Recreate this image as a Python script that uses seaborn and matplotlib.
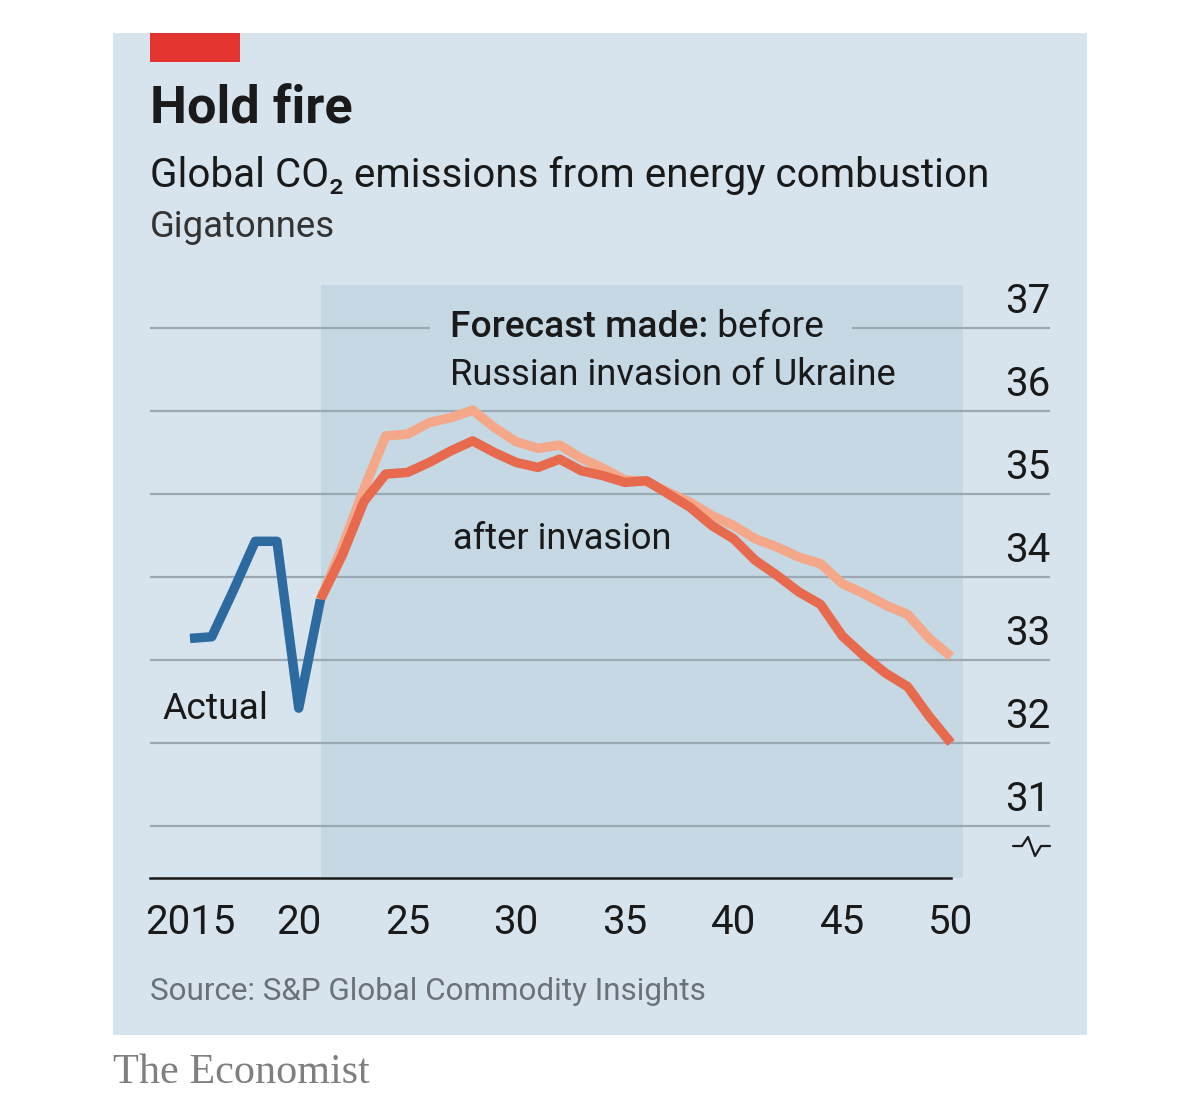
"""Hold fire: global CO2 emissions from energy combustion, actual vs forecasts."""

import matplotlib.lines as mlines
import matplotlib.patches as mpatches
import matplotlib.pyplot as plt
import pandas as pd
import seaborn as sns

# data
actual_years = [2015, 2016, 2017, 2018, 2019, 2020, 2021]
actual_values = [33.26, 33.28, 33.84, 34.43, 34.43, 32.42, 33.73]

forecast_years = list(range(2021, 2051))
before_values = [
    33.73, 34.36, 35.06, 35.70, 35.72, 35.86, 35.92, 36.01, 35.80, 35.63,
    35.55, 35.59, 35.43, 35.31, 35.17, 35.15, 35.02, 34.90, 34.74, 34.62,
    34.46, 34.36, 34.24, 34.16, 33.92, 33.80, 33.66, 33.55, 33.26, 33.04,
]
after_values = [
    33.73, 34.26, 34.91, 35.24, 35.26, 35.38, 35.52, 35.64, 35.50, 35.38,
    35.32, 35.42, 35.28, 35.22, 35.14, 35.16, 35.00, 34.84, 34.62, 34.46,
    34.20, 34.02, 33.82, 33.67, 33.29, 33.05, 32.84, 32.68, 32.32, 32.00,
]

y_ticks = [31, 32, 33, 34, 35, 36, 37]
x_ticks = [2015, 2020, 2025, 2030, 2035, 2040, 2045, 2050]
x_tick_labels = ["2015", "20", "25", "30", "35", "40", "45", "50"]

PANEL = "#d8e4ed"
SHADE = "#c5d8e4"
GRID = "#9ca8b2"
BLUE = "#2d6a9f"
DARK_ORANGE = "#e86a4e"
LIGHT_ORANGE = "#f4a789"
RED = "#e3342f"
TEXT = "#1a1a1a"

W, H = 1200, 1115


def fx(px):
    return px / W


def fy(py):
    return 1 - py / H


sns.set_theme(style="white")
plt.rcParams["font.family"] = ["Roboto", "DejaVu Sans"]

fig = plt.figure(figsize=(W / 100, H / 100), dpi=100)
fig.patch.set_facecolor("white")
renderer = fig.canvas.get_renderer()


def fit_width(text, width_px):
    """글자 폭이 원본과 같아지도록 크기를 맞춘다."""
    current = text.get_window_extent(renderer).width
    text.set_fontsize(text.get_fontsize() * width_px / current)
    return text


def add_box(left, top, right, bottom, color, zorder):
    """픽셀 좌표로 그림 전체 위에 사각형을 붙인다."""
    fig.add_artist(mpatches.Rectangle(
        (fx(left), fy(bottom)), fx(right) - fx(left), fy(top) - fy(bottom),
        transform=fig.transFigure, facecolor=color, edgecolor="none",
        zorder=zorder,
    ))


add_box(113, 33, 1087, 1035, PANEL, -2)
add_box(150, 33, 240, 62, RED, -1)

ax = fig.add_axes([fx(150), fy(878), fx(1050) - fx(150), fy(285) - fy(878)])
ax.set_facecolor("none")

px_per_year = (951 - 190) / 35
x_left = 2015 - (190 - 150) / px_per_year
x_right = 2015 + (1050 - 190) / px_per_year
ax.set_xlim(x_left, x_right)
ax.set_ylim(31 - (878 - 826) / 83, 37 + (328 - 285) / 83)

ax.axvspan(2021.03, 2050.55, color=SHADE, lw=0, zorder=1)

ax.set_axisbelow(False)
ax.set_yticks(y_ticks)
ax.yaxis.grid(True, color=GRID, lw=1.6)
ax.tick_params(axis="y", length=0, labelleft=False, labelright=False)
for value in y_ticks:
    ax.text(1.0, value + 0.08, str(value), transform=ax.get_yaxis_transform(),
            ha="right", va="bottom", size=29, color=TEXT)

before_df = pd.DataFrame({"year": forecast_years, "value": before_values})
after_df = pd.DataFrame({"year": forecast_years, "value": after_values})
actual_df = pd.DataFrame({"year": actual_years, "value": actual_values})

sns.lineplot(data=before_df, x="year", y="value", ax=ax, color=LIGHT_ORANGE,
             linewidth=6.8, zorder=3, solid_capstyle="butt")
sns.lineplot(data=after_df, x="year", y="value", ax=ax, color=DARK_ORANGE,
             linewidth=6.8, zorder=4, solid_capstyle="butt")
sns.lineplot(data=actual_df, x="year", y="value", ax=ax, color=BLUE,
             linewidth=6.8, zorder=5, solid_capstyle="butt")
ax.set_xlabel("")
ax.set_ylabel("")

for side in ["top", "left", "right"]:
    ax.spines[side].set_visible(False)
ax.spines["bottom"].set_color(TEXT)
ax.spines["bottom"].set_linewidth(1.8)
ax.spines["bottom"].set_bounds(x_left, 2050)
ax.set_xticks(x_ticks, x_tick_labels)
ax.tick_params(axis="x", length=11, width=1.5, color=TEXT, labelsize=29,
               labelcolor=TEXT, pad=7, direction="out")

# titles
fit_width(fig.text(fx(150), fy(123), "Hold fire", size=36, weight="bold",
                   color=TEXT, va="baseline"), 203)
fit_width(fig.text(fx(150), fy(187),
                   "Global CO₂ emissions from energy combustion",
                   size=30, color=TEXT, va="baseline"), 838)
fit_width(fig.text(fx(150), fy(237), "Gigatonnes", size=28, color="#333333",
                   va="baseline"), 185)

# annotations; a strip of shade hides the 37 gridline behind the first line
add_box(430, 322, 852, 334, SHADE, 3)
label_kw = dict(size=27, color=TEXT, zorder=4)
t1 = fig.text(fx(450), fy(337), "Forecast made:", weight="medium",
              va="baseline", **label_kw)
fit_width(t1, 258)
fig.text(fx(450) + t1.get_window_extent(renderer).width / W, fy(337),
         " before", va="baseline", size=t1.get_fontsize(), color=TEXT,
         zorder=4)
fit_width(fig.text(fx(450), fy(385), "Russian invasion of Ukraine",
                   va="baseline", **label_kw), 446)
fit_width(fig.text(fx(453), fy(549), "after invasion", va="baseline",
                   **label_kw), 219)
fit_width(fig.text(fx(162), fy(719), "Actual", va="baseline", **label_kw), 106)

# axis break mark under the 31 label
bx = [1013, 1022, 1028, 1035, 1041, 1050]
by = [846, 846, 837, 856, 846, 846]
fig.add_artist(mlines.Line2D([fx(v) for v in bx], [fy(v) for v in by],
                             transform=fig.transFigure, color=TEXT, lw=1.6))

fit_width(fig.text(fx(150), fy(1000), "Source: S&P Global Commodity Insights",
                   size=24, color="#6b7177", va="baseline"), 557)
fit_width(fig.text(fx(113), fy(1083), "The Economist", size=27,
                   color="#7f7f7f", va="baseline",
                   family=["Liberation Serif", "DejaVu Serif"]), 257)

fig.savefig("out.png", dpi=100, facecolor="white")
